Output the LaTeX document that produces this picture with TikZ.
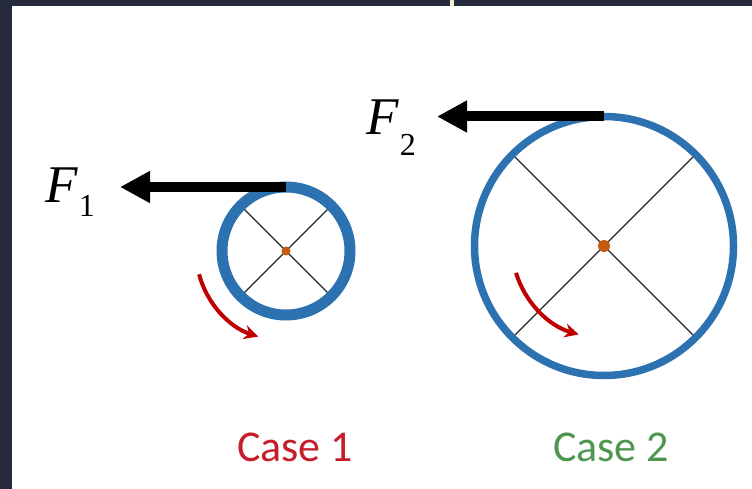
\documentclass[tikz,border=0pt]{standalone}
\usepackage{fontspec}
\setmainfont{Liberation Serif}
\newfontfamily\casefont{Carlito}
\usetikzlibrary{arrows.meta,positioning}
\definecolor{framedark}{HTML}{262A3D}
\definecolor{gapcream}{HTML}{F0EBD2}
\definecolor{ringblue}{HTML}{2C72B0}
\definecolor{huborange}{HTML}{C55A11}
\definecolor{spinred}{HTML}{C00000}
\definecolor{casered}{HTML}{C41E2A}
\definecolor{casegreen}{HTML}{4E9650}
\newcommand{\Fsub}[2]{\textit{F}\raisebox{-#2}{\fontsize{32}{32}\selectfont #1}}

\begin{document}
\begin{tikzpicture}[x=1pt, y=-1pt,
  wheel/.style={circle, draw=ringblue, inner sep=0pt, outer sep=0pt},
  spoke/.style={black!85, line width=1.1pt},
  hub/.style={circle, fill=huborange, inner sep=0pt},
  forcearrow/.style={line width=10pt, -{Triangle[length=30pt, width=30pt]}},
  spinarrow/.style={spinred, line width=4pt, -{Stealth[length=14pt, width=14pt]}},
  flabel/.style={inner sep=0pt, anchor=base east, font=\fontsize{53}{53}\selectfont},
  caselbl/.style={inner sep=0pt, anchor=base, font=\casefont\fontsize{44}{44}\selectfont}]
  % page and frame
  \useasboundingbox (0,0) rectangle (752,489);
  \fill[white] (0,0) rectangle (752,489);
  \fill[framedark] (0,0) rectangle (752,6);
  \fill[framedark] (0,0) rectangle (12,489);
  \fill[gapcream] (450,0) rectangle (454,6);

  % case 1: small wheel
  \node[wheel, line width=11pt, minimum size=128pt] (w1) at (286,251) {};
  \foreach \a/\b in {45/225,135/315} \draw[spoke, shorten <=5.5pt, shorten >=5.5pt] (w1.\a) -- (w1.\b);
  \node[hub, minimum size=9pt] (h1) at (w1.center) {};
  \draw[spinarrow] (w1.center) ++(165:90) arc[start angle=165, end angle=108, radius=90];
  \coordinate[left=166pt of w1.north] (t1);
  \draw[forcearrow] (w1.north) -- (t1);
  \node[flabel] (f1) at (95,203) {\Fsub{1}{14pt}};

  % case 2: large wheel
  \node[wheel, line width=7.5pt, minimum size=259pt] (w2) at (604,246) {};
  \foreach \a/\b in {45/225,135/315} \draw[spoke, shorten <=3.75pt, shorten >=3.75pt] (w2.\a) -- (w2.\b);
  \node[hub, minimum size=12pt] (h2) at (w2.center) {};
  \draw[spinarrow] (w2.center) ++(163:92) arc[start angle=163, end angle=106, radius=92];
  \coordinate[left=167pt of w2.north] (t2);
  \draw[forcearrow] (w2.north) -- (t2);
  \node[flabel] (f2) at (416,135) {\Fsub{2}{21pt}};

  \node[caselbl, text=casered] (k1) at (295,461) {Case 1};
  \node[caselbl, text=casegreen] (k2) at (611,461) {Case 2};
\end{tikzpicture}
\end{document}
